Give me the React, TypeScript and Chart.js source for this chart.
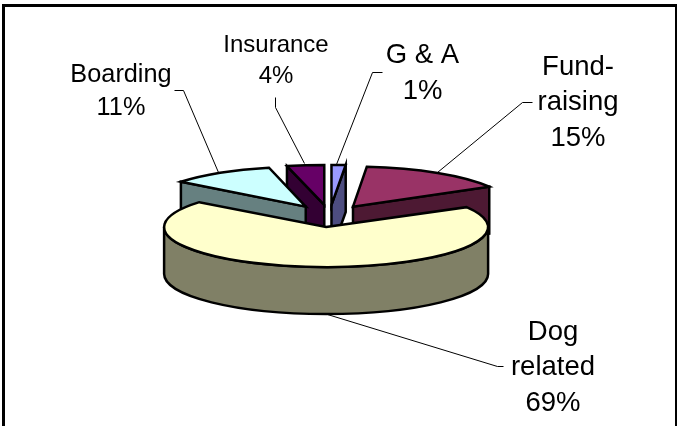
import React, { useEffect, useRef } from "react";
import { Chart, registerables } from "chart.js";

Chart.register(...registerables);

const categories = ["G & A", "Fund-raising", "Dog related", "Boarding", "Insurance"];
const values = [1.4, 15.3, 69, 10.6, 3.7];
const topColors = ["#9999FF", "#993366", "#FFFFCC", "#CCFFFF", "#660066"];
const wallColors = ["#4D4D80", "#4D1933", "#808066", "#668080", "#330033"];

// Per category: wrapped name, text centre, baselines, font size
const labelLines = [["G & A"], ["Fund-", "raising"], ["Dog", "related"], ["Boarding"], ["Insurance"]];
const labelX = [422.5, 578, 553, 121, 276];
const labelBaselines = [[63, 99], [75, 110, 146], [340, 375, 411], [82, 115], [52, 83]];
const labelSizes = [27.5, 27.5, 27.5, 25.3, 24];
const leaders = [
  [[382, 72], [372, 72], [336, 164]],
  [[532, 102], [522, 102], [437, 172]],
  [[503, 366], [497, 366], [327, 314]],
  [[174, 90], [183, 90], [218, 172]],
  [[275, 97], [275, 107], [304, 163]],
];
// Slight foreshortening of the slices at the back of the pie
const widthScale = [1, 0.97, 1, 0.985, 1];

const CX = 329.5;
const CY = 216;
const RADIUS = 162;
const TILT = 0.247;
const DEPTH = 47;
const EXPLODE = 45;

const pie3d = {
  id: "pie3d",
  beforeDatasetDraw() {
    return false;
  },
  afterDatasetsDraw(chart: any) {
    const ctx = chart.ctx;
    const arcs = chart.getDatasetMeta(0).data;
    // Back to front: the big front slice goes last
    [0, 4, 3, 1, 2].forEach((i) => {
      const arc = arcs[i];
      const { x, y, startAngle: s, endAngle: e, outerRadius: R } = arc.getProps(
        ["x", "y", "startAngle", "endAngle", "outerRadius"],
        true
      );
      const w = widthScale[i];
      const mid = (s + e) / 2;
      const ax = CX + Math.cos(mid) * EXPLODE * w;
      const ay = CY + Math.sin(mid) * EXPLODE * TILT;
      const pt = (t: number): [number, number] => [ax + R * w * Math.cos(t), ay + R * TILT * Math.sin(t)];
      const outline = () => {
        ctx.lineWidth = 2.5;
        ctx.strokeStyle = "#000000";
        ctx.lineJoin = "miter";
        ctx.stroke();
      };
      // Radial walls that face the viewer
      [
        [s, Math.sin(s - Math.PI / 2)],
        [e, Math.sin(e + Math.PI / 2)],
      ].forEach(([t, facing]) => {
        if (facing <= 0) return;
        const [px, py] = pt(t);
        ctx.beginPath();
        ctx.moveTo(ax, ay);
        ctx.lineTo(px, py);
        ctx.lineTo(px, py + DEPTH);
        ctx.lineTo(ax, ay + DEPTH);
        ctx.closePath();
        ctx.fillStyle = wallColors[i];
        ctx.fill();
        outline();
      });
      // Rim wall, lower half only
      const from = Math.max(s, 0);
      const to = Math.min(e, Math.PI);
      if (to > from) {
        ctx.beginPath();
        ctx.ellipse(ax, ay, R * w, R * TILT, 0, from, to);
        ctx.ellipse(ax, ay + DEPTH, R * w, R * TILT, 0, to, from, true);
        ctx.closePath();
        ctx.fillStyle = wallColors[i];
        ctx.fill();
        outline();
      }
      // Top face: the library's arc under a squash transform
      ctx.save();
      ctx.translate(ax, ay);
      ctx.scale(w, TILT);
      ctx.translate(-x, -y);
      arc.draw(ctx);
      ctx.restore();
      ctx.beginPath();
      ctx.moveTo(ax, ay);
      ctx.ellipse(ax, ay, R * w, R * TILT, 0, s, e);
      ctx.closePath();
      outline();
    });

    // Leader lines
    ctx.lineWidth = 1;
    ctx.strokeStyle = "#000000";
    ctx.lineJoin = "round";
    leaders.forEach((pts) => {
      ctx.beginPath();
      pts.forEach(([px, py], k) => (k ? ctx.lineTo(px + 0.5, py + 0.5) : ctx.moveTo(px + 0.5, py + 0.5)));
      ctx.stroke();
    });

    // Labels
    const total = values.reduce((a, b) => a + b, 0);
    ctx.fillStyle = "#000000";
    ctx.textAlign = "center";
    ctx.textBaseline = "alphabetic";
    categories.forEach((_, i) => {
      const lines = [...labelLines[i], `${Math.round((values[i] / total) * 100)}%`];
      ctx.font = `${labelSizes[i]}px "Liberation Sans"`;
      lines.forEach((text, k) => ctx.fillText(text, labelX[i], labelBaselines[i][k]));
    });

    // Chart frame (runs off the bottom of the page)
    ctx.lineWidth = 3;
    ctx.lineJoin = "miter";
    ctx.strokeRect(3.5, 5.5, 673, 430);
  },
};

export default function App() {
  const ref = useRef<HTMLCanvasElement>(null);
  useEffect(() => {
    const chart = new Chart(ref.current!, {
      type: "pie",
      data: {
        labels: categories,
        datasets: [
          {
            data: values,
            backgroundColor: topColors,
            borderWidth: 0,
            offset: 0,
            hoverOffset: 0,
          } as any,
        ],
      },
      options: {
        responsive: false,
        animation: false,
        events: [],
        rotation: 0,
        radius: RADIUS,
        layout: { padding: 0 },
        plugins: { legend: { display: false }, tooltip: { enabled: false } },
      } as any,
      plugins: [pie3d as any],
    });
    return () => chart.destroy();
  }, []);
  return (
    <div style={{ position: "absolute", left: 0, top: 0, width: 677, height: 426, overflow: "hidden", background: "#fff" }}>
      <canvas ref={ref} width={677} height={426} style={{ display: "block" }} />
    </div>
  );
}
